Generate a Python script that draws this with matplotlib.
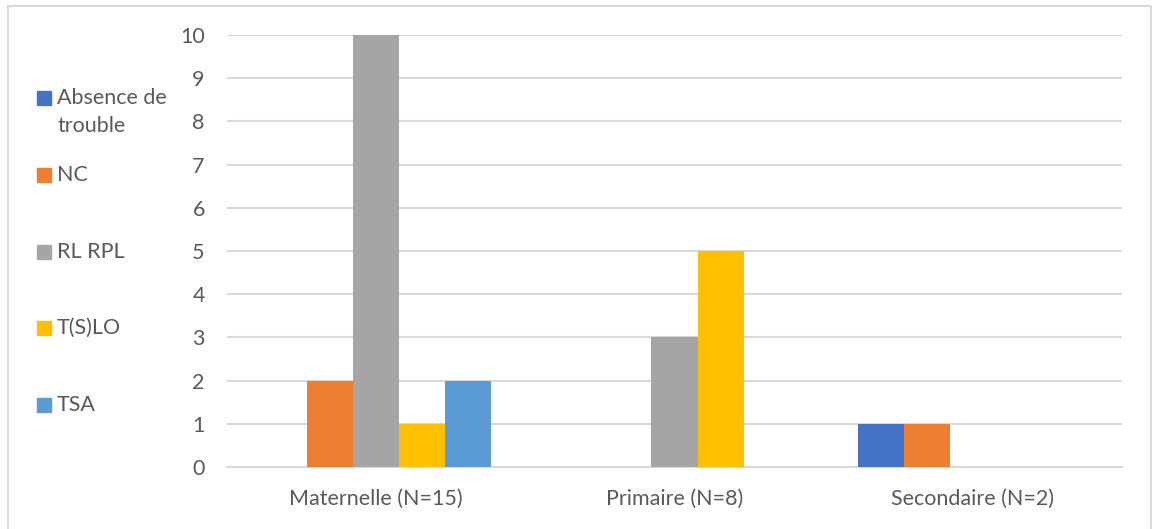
import matplotlib
matplotlib.use("Agg")
import matplotlib.pyplot as plt
from matplotlib.patches import Rectangle
import numpy as np

CATEGORIES = ["Maternelle (N=15)", "Primaire (N=8)", "Secondaire (N=2)"]
SERIES = ["Absence de\ntrouble", "NC", "RL RPL", "T(S)LO", "TSA"]
VALUES = [
    [0, 0, 1],
    [2, 0, 1],
    [10, 3, 0],
    [1, 5, 0],
    [2, 0, 0],
]
COLORS = ["#4472C4", "#ED7D31", "#A5A5A5", "#FFC000", "#5B9BD5"]
Y_TICKS = list(range(0, 11))

plt.rcParams["font.family"] = ["Lato", "DejaVu Sans"]
TEXT = "#595959"
GRID = "#D9D9D9"
FS = 15.5

W, H = 1152, 529
fig = plt.figure(figsize=(W / 100, H / 100), dpi=100)
ax = fig.add_axes([227 / W, 1 - 467 / H, (1122 - 227) / W, (467 - 35) / H])

x = np.arange(len(CATEGORIES))
bw = 0.1545
for i, (vals, col) in enumerate(zip(VALUES, COLORS)):
    ax.bar(x + (i - 2) * bw, vals, width=bw, color=col, zorder=3)

ax.set_xlim(-0.5, len(CATEGORIES) - 0.5)
ax.set_ylim(0, 10)
ax.set_yticks(Y_TICKS)
ax.set_xticks(x)
ax.set_xticklabels(CATEGORIES)
ax.tick_params(axis="both", length=0, labelsize=FS, colors=TEXT)
ax.tick_params(axis="y", pad=16)
ax.tick_params(axis="x", pad=16)
ax.grid(axis="y", color=GRID, linewidth=1.5, zorder=0)
for s in ["top", "right", "left"]:
    ax.spines[s].set_visible(False)
ax.spines["bottom"].set_color(GRID)
ax.spines["bottom"].set_linewidth(1.5)

# legend on the left, placed like the Excel one
leg_y = [98, 175, 252, 328, 405]
for lab, col, yc in zip(SERIES, COLORS, leg_y):
    fig.patches.append(Rectangle((37 / W, 1 - (yc + 7) / H), 14 / W, 14 / H,
                                 transform=fig.transFigure, color=col))
    fig.text(57 / W, 1 - (yc - 10) / H, lab, ha="left", va="top",
             fontsize=FS, color=TEXT, linespacing=1.5)

# chart border
fig.patches.append(Rectangle((8 / W, -0.05), (1151 - 8) / W, 1.05 - 6 / H,
                             transform=fig.transFigure, fill=False,
                             edgecolor=GRID, linewidth=1.5))

fig.savefig("out.png", dpi=100)
